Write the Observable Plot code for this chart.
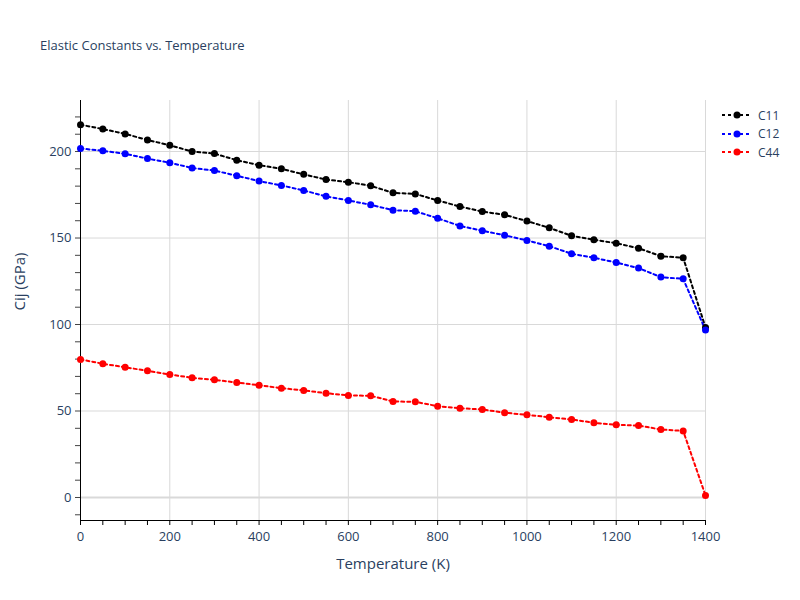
<!DOCTYPE html>
<html>
<head>
<meta charset="utf-8">
<script src="https://cdn.jsdelivr.net/npm/d3@7"></script>
<script src="https://cdn.jsdelivr.net/npm/@observablehq/plot@0.6"></script>
<style>
  html, body { margin: 0; padding: 0; background: #fff; }
  #wrap { position: relative; width: 800px; height: 600px; font-family: "Open Sans", Verdana, Arial, sans-serif; }
  #title { position: absolute; left: 40px; top: 36px; font-size: 13px; color: #2a3f5f; }
  #legend { position: absolute; left: 720px; top: 106px; font-size: 12px; color: #2a3f5f; }
  .item { display: flex; align-items: center; height: 18.5px; }
  .item svg { margin-right: 6px; }
</style>
</head>
<body>
<div id="wrap">
  <div id="title">Elastic Constants vs. Temperature</div>
  <div id="legend"></div>
</div>
<script>
const temperatures = [0, 50, 100, 150, 200, 250, 300, 350, 400, 450, 500, 550, 600, 650, 700,
  750, 800, 850, 900, 950, 1000, 1050, 1100, 1150, 1200, 1250, 1300, 1350, 1400];
const C11 = [215.5, 213.0, 210.2, 206.7, 203.6, 200.0, 198.8, 195.0, 192.1, 190.0, 186.8, 183.8, 182.3, 180.2, 176.1,
  175.5, 171.7, 168.2, 165.3, 163.4, 159.8, 155.9, 151.3, 149.0, 147.0, 144.1, 139.5, 138.6, 98.3];
const C12 = [201.8, 200.4, 198.7, 195.9, 193.5, 190.5, 189.0, 186.0, 182.9, 180.4, 177.5, 174.1, 171.7, 169.2, 166.1,
  165.5, 161.4, 157.0, 154.2, 151.6, 148.6, 145.3, 140.9, 138.6, 135.8, 132.6, 127.4, 126.4, 96.8];
const C44 = [79.8, 77.3, 75.3, 73.2, 71.1, 69.2, 68.0, 66.5, 64.9, 63.2, 61.9, 60.3, 59.0, 58.8, 55.5,
  55.3, 52.8, 51.6, 50.9, 49.0, 47.8, 46.4, 45.1, 43.2, 42.0, 41.6, 39.3, 38.5, 1.2];
const seriesNames = ["C11", "C12", "C44"];
const seriesColors = ["#000000", "#0000ff", "#ff0000"];
const xTickLabels = [0, 200, 400, 600, 800, 1000, 1200, 1400];
const yTickLabels = [0, 50, 100, 150, 200];

const seriesValues = [C11, C12, C44];
const data = [];
seriesNames.forEach((name, i) => {
  temperatures.forEach((t, j) => data.push({series: name, T: t, v: seriesValues[i][j]}));
});

const xMinor = d3.range(0, 1401, 50);
const yMinor = d3.range(-10, 230, 10);
const textColor = "#2a3f5f";

const chart = Plot.plot({
  width: 800,
  height: 600,
  marginLeft: 80,
  marginRight: 95,
  marginTop: 100,
  marginBottom: 80,
  style: {fontFamily: '"Open Sans", Verdana, Arial, sans-serif', fontSize: "12px", color: textColor, background: "transparent"},
  x: {domain: [0, 1400]},
  y: {domain: [-13.3, 229.5]},
  color: {domain: seriesNames, range: seriesColors},
  marks: [
    Plot.gridX(xTickLabels.filter(d => d > 0), {stroke: "#d9d9d9", strokeOpacity: 1}),
    Plot.gridY(yTickLabels.filter(d => d > 0), {stroke: "#d9d9d9", strokeOpacity: 1}),
    Plot.ruleY([0], {stroke: "#d9d9d9", strokeWidth: 2}),
    Plot.axisX({ticks: xMinor, tickFormat: () => "", tickSize: 5, stroke: "#000", label: null}),
    Plot.axisX({ticks: xTickLabels, tickFormat: d => String(d), tickSize: 0, tickPadding: 11, fill: textColor, fontSize: 13, label: null}),
    Plot.axisY({ticks: yMinor, tickFormat: () => "", tickSize: 5, stroke: "#444", label: null}),
    Plot.axisY({ticks: yTickLabels, tickFormat: d => String(d), tickSize: 0, tickPadding: 9, fill: textColor, fontSize: 13, label: null}),
    Plot.frame({anchor: "left", stroke: "#000"}),
    Plot.frame({anchor: "bottom", stroke: "#000"}),
    Plot.line(data, {x: "T", y: "v", z: "series", stroke: "series", strokeWidth: 2, strokeDasharray: "3,3", curve: "linear"}),
    Plot.dot(data, {x: "T", y: "v", fill: "series", r: 3.5, stroke: null}),
    Plot.text(["Temperature (K)"], {frameAnchor: "bottom", dy: 48, fontSize: 15, fill: textColor}),
    Plot.text(["Cij (GPa)"], {frameAnchor: "left", dx: -60, rotate: -90, fontSize: 15, fill: textColor})
  ]
});
chart.style.position = "absolute";
chart.style.left = "0px";
chart.style.top = "0px";
document.getElementById("wrap").prepend(chart);

const legend = document.getElementById("legend");
seriesNames.forEach((name, i) => {
  const row = document.createElement("div");
  row.className = "item";
  row.innerHTML = `<svg width="32" height="10"><line x1="2" y1="5" x2="32" y2="5" stroke="${seriesColors[i]}" stroke-width="2" stroke-dasharray="3,3"/><circle cx="17" cy="5" r="3.5" fill="${seriesColors[i]}"/></svg><span>${name}</span>`;
  legend.appendChild(row);
});
</script>
</body>
</html>
